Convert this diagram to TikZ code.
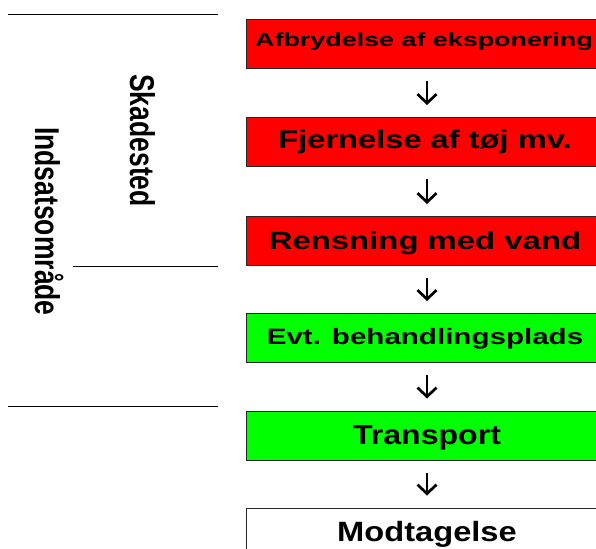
\documentclass[tikz,border=0pt]{standalone}
\usepackage{fontspec}
\setmainfont{Liberation Sans}
\usetikzlibrary{arrows.meta}
\definecolor{boxred}{RGB}{255,0,0}
\definecolor{boxgreen}{RGB}{0,255,0}
\begin{document}
\begin{tikzpicture}[x=1bp,y=-1bp,
  stepbox/.style={draw=black!85,line width=1bp,minimum width=420bp,minimum height=49bp,inner sep=0pt},
  lbl/.style={anchor=base,inner sep=0pt,font=\bfseries},
  vlbl/.style={anchor=base west,inner sep=0pt,rotate=-90,font=\bfseries},
  flow/.style={line width=2.7bp,-{Straight Barb[length=9bp,width=19bp,line width=2.7bp]},shorten <=12bp,shorten >=12bp},
  sep/.style={line width=1bp,black}]
\path[use as bounding box] (0,0) rectangle (596,549);
% boxes (they run on past the right edge of the picture)
\node[stepbox,fill=boxred] (b1) at (456,44.5) {};
\node[stepbox,fill=boxred] (b2) at (456,142) {};
\node[stepbox,fill=boxred] (b3) at (456,241) {};
\node[stepbox,fill=boxgreen] (b4) at (456,338) {};
\node[stepbox,fill=boxgreen] (b5) at (456,435.5) {};
\node[stepbox,fill=white] (b6) at (456,532.5) {};
% texts
\node[lbl] (t1) at (424,46.7) {\scalebox{1.42}[1]{\fontsize{19}{19}\selectfont Afbrydelse af eksponering}};
\node[lbl] (t2) at (425,148.7) {\scalebox{1.28}[1]{\fontsize{25.6}{25.6}\selectfont Fjernelse af tøj mv.}};
\node[lbl] (t3) at (425,249.3) {\scalebox{1.32}[1]{\fontsize{25}{25}\selectfont Rensning med vand}};
\node[lbl] (t4) at (425,344) {\scalebox{1.33}[1]{\fontsize{22.3}{22.3}\selectfont Evt. behandlingsplads}};
\node[lbl] (t5) at (427,444) {\scalebox{1.17}[1]{\fontsize{27.5}{27.5}\selectfont Transport}};
\node[lbl] (t6) at (427,541.7) {\scalebox{1.17}[1]{\fontsize{28}{28}\selectfont Modtagelse}};
% arrows
\draw[flow] ([xshift=-29bp]b1.south) -- ([xshift=-29bp]b2.north);
\draw[flow] ([xshift=-29bp]b2.south) -- ([xshift=-29bp]b3.north);
\draw[flow] ([xshift=-29bp]b3.south) -- ([xshift=-29bp]b4.north);
\draw[flow] ([xshift=-29bp]b4.south) -- ([xshift=-29bp]b5.north);
\draw[flow] ([xshift=-29bp]b5.south) -- ([xshift=-29bp]b6.north);
% separator lines
\draw[sep] (8.3,14.7) -- (218.3,14.7);
\draw[sep] (72.7,266) -- (218.3,266);
\draw[sep] (8.3,406) -- (218.3,406);
% side labels
\node[vlbl] (skade) at (130,74) {\scalebox{1}[1.3]{\fontsize{26.6}{26.6}\selectfont Skadested}};
\node[vlbl] (indsats) at (35,127) {\scalebox{1}[1.3]{\fontsize{26.6}{26.6}\selectfont Indsatsområde}};
\end{tikzpicture}
\end{document}
